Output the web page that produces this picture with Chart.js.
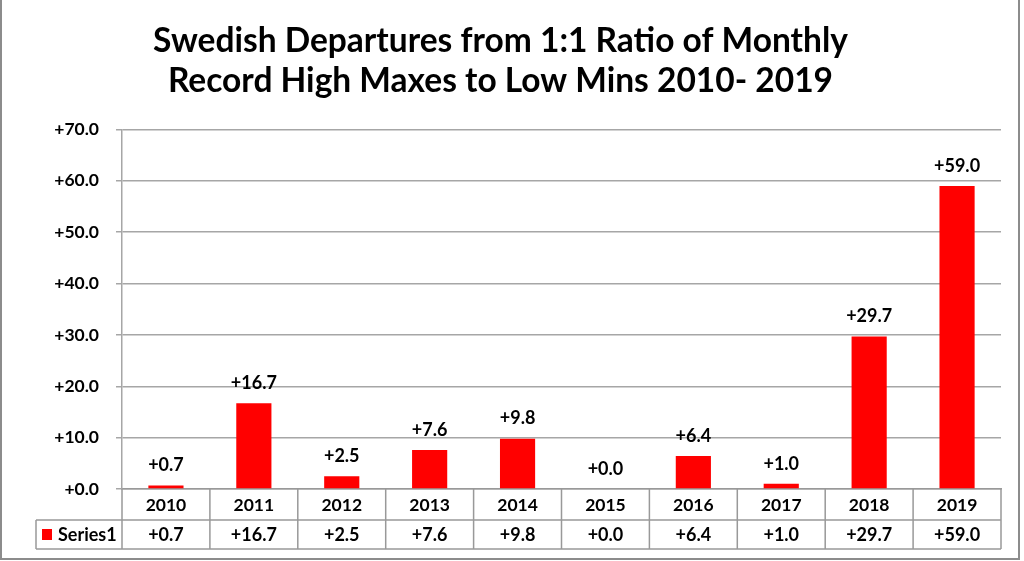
<!DOCTYPE html>
<html>
<head>
<meta charset="utf-8">
<script src="https://cdn.jsdelivr.net/npm/chart.js@4.4.1/dist/chart.umd.min.js"></script>
<style>
html,body{margin:0;padding:0;background:#fff;}
#wrap{width:1024px;height:561px;position:relative;}
</style>
</head>
<body>
<div id="wrap"><canvas id="c" width="1024" height="561"></canvas></div>
<script>
const categories = ['2010','2011','2012','2013','2014','2015','2016','2017','2018','2019'];
const seriesName = 'Series1';
const values = [0.7, 16.7, 2.5, 7.6, 9.8, 0.0, 6.4, 1.0, 29.7, 59.0];
const titleLines = ['Swedish Departures from 1:1 Ratio of Monthly', 'Record High Maxes to Low Mins 2010- 2019'];
const yMin = 0, yMax = 70, yStep = 10;

const FONT = 'Lato, "Open Sans", sans-serif';
const GRID = '#a6a6a6';
const TABLE = '#999999';
const RED = '#ff0000';
const fmt = v => '+' + Number(v).toFixed(1);

const tablePlugin = {
  id: 'dataTable',
  afterDatasetsDraw(chart) {
    const ctx = chart.ctx;
    const meta = chart.getDatasetMeta(0);
    ctx.save();
    ctx.font = 'bold 18px ' + FONT;
    ctx.fillStyle = '#000';
    ctx.textAlign = 'center';
    ctx.textBaseline = 'middle';
    meta.data.forEach((bar, i) => {
      ctx.fillText(fmt(values[i]), bar.x, bar.y - 20);
    });
    ctx.restore();
  },
  afterDraw(chart) {
    const ctx = chart.ctx;
    const x = chart.scales.x;
    const area = chart.chartArea;
    const n = categories.length;
    const left = area.left, right = area.right;
    const step = (right - left) / n;
    const top = area.bottom;
    const rowH = 31;
    const mid = top + rowH;
    const bot = mid + 29;
    const legendLeft = 36;
    ctx.save();
    ctx.strokeStyle = TABLE;
    ctx.lineWidth = 1.5;
    ctx.beginPath();
    for (let i = 0; i <= n; i++) {
      const px = left + i * step;
      ctx.moveTo(px, top); ctx.lineTo(px, bot);
    }
    ctx.moveTo(legendLeft, mid); ctx.lineTo(right, mid);
    ctx.moveTo(legendLeft, bot); ctx.lineTo(right, bot);
    ctx.moveTo(legendLeft, mid); ctx.lineTo(legendLeft, bot);
    ctx.stroke();
    // legend key
    ctx.fillStyle = RED;
    ctx.fillRect(42, mid + 9, 10, 11);
    ctx.fillStyle = '#000';
    ctx.font = 'bold 18px ' + FONT;
    ctx.textBaseline = 'middle';
    ctx.textAlign = 'left';
    ctx.fillText(seriesName, 58, mid + 15);
    ctx.textAlign = 'center';
    for (let i = 0; i < n; i++) {
      ctx.fillText(fmt(values[i]), x.getPixelForTick(i), mid + 15);
    }
    // outer border
    ctx.strokeStyle = '#8c8c8c';
    ctx.lineWidth = 2;
    ctx.beginPath();
    ctx.moveTo(1, 0); ctx.lineTo(1, 559); ctx.lineTo(1019, 559); ctx.lineTo(1019, 0);
    ctx.stroke();
    ctx.restore();
  }
};

new Chart(document.getElementById('c'), {
  type: 'bar',
  data: {
    labels: categories,
    datasets: [{
      label: seriesName,
      data: values,
      backgroundColor: RED,
      borderWidth: 0,
      categoryPercentage: 1.0,
      barPercentage: 0.4
    }]
  },
  options: {
    responsive: false,
    animation: false,
    devicePixelRatio: 1,
    layout: { padding: { top: 21, left: 0, right: 23, bottom: 12 } },
    plugins: {
      legend: { display: false },
      tooltip: { enabled: false },
      title: {
        display: true,
        text: titleLines,
        color: '#000',
        font: { family: FONT, size: 33.5, weight: 'bold', lineHeight: 1.2 },
        padding: { top: 0, bottom: 28 }
      }
    },
    scales: {
      x: {
        grid: { display: false, drawTicks: false },
        border: { display: true, color: TABLE, width: 1.5 },
        ticks: {
          color: '#000',
          font: { family: FONT, size: 17.5, weight: 'bold' },
          padding: 6,
          maxRotation: 0,
          autoSkip: false
        },
        afterFit(scale) { scale.height = 60; }
      },
      y: {
        min: yMin, max: yMax,
        ticks: {
          stepSize: yStep,
          color: '#000',
          font: { family: FONT, size: 17.5, weight: 'bold' },
          padding: 17,
          callback: v => fmt(v)
        },
        grid: { color: GRID, lineWidth: 1.5, tickLength: 6 },
        border: { display: true, color: GRID, width: 1.5 },
        afterFit(scale) { scale.width = 122; }
      }
    }
  },
  plugins: [tablePlugin]
});
</script>
</body>
</html>
